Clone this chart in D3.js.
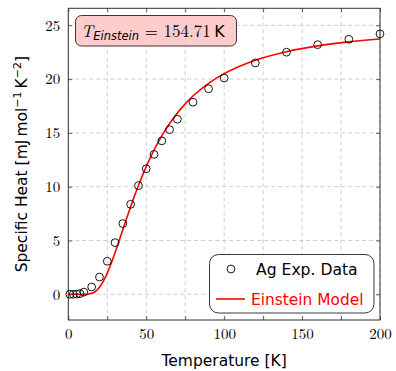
<!DOCTYPE html>
<html>
<head>
<meta charset="utf-8">
<script src="https://cdn.jsdelivr.net/npm/d3@7"></script>
<style>
  body { margin: 0; background: #fff; }
  svg text { fill: #000; }
</style>
</head>
<body>
<svg id="chart"></svg>
<script>
var expT = [1, 3.2, 5.4, 7.5, 10, 15, 20, 25, 30, 35, 40, 45, 50, 55, 60, 65, 70, 80, 90, 100, 120, 140, 160, 180, 200];
var expC = [0, 0, 0.02, 0.06, 0.2, 0.68, 1.6, 3.07, 4.8, 6.57, 8.36, 10.1, 11.67, 13.0, 14.26, 15.3, 16.27, 17.85, 19.1, 20.1, 21.5, 22.5, 23.2, 23.7, 24.2];

// Einstein model curve
var modelT = [0, 5, 10, 12, 15, 17.5, 20, 22.5, 25, 27.5, 30, 32.5, 35, 37.5, 40, 42.5, 45, 50, 55, 60, 65, 70, 75, 80, 90, 100, 120, 140, 160, 180, 200];
var modelC = [0, 0, 0.001, 0.01, 0.09, 0.28, 0.65, 1.22, 1.97, 2.86, 3.87, 4.93, 6.01, 7.08, 8.14, 9.15, 10.11, 11.87, 13.41, 14.73, 15.88, 16.86, 17.70, 18.43, 19.61, 20.51, 21.76, 22.55, 23.09, 23.46, 23.72];

var xTicks = [0, 25, 50, 75, 100, 125, 150, 175, 200];
var xLabels = [0, 50, 100, 150, 200];
var yTicks = [0, 5, 10, 15, 20, 25];

var W = 396, H = 371;
var margin = {top: 8.3, left: 68.3, right: 16, bottom: 51};
var width = W - margin.left - margin.right;
var height = H - margin.top - margin.bottom;

var svg = d3.select("#chart").attr("width", W).attr("height", H);
var g = svg.append("g").attr("transform", "translate(" + margin.left + "," + margin.top + ")");

var x = d3.scaleLinear().domain([0, 200]).range([0, width]);
var y = d3.scaleLinear().domain([-2.39, 26.58]).range([height, 0]);

var serif = "'Latin Modern Roman','CMU Serif','Liberation Serif',serif";
var sans = "'DejaVu Sans','Liberation Sans',sans-serif";

// grid
g.append("g").selectAll("line").data(xTicks).enter().append("line")
  .attr("x1", d => x(d)).attr("x2", d => x(d)).attr("y1", 0).attr("y2", height)
  .attr("stroke", "#c0c0c0").attr("stroke-dasharray", "4,3").attr("stroke-width", 0.8);
g.append("g").selectAll("line").data(yTicks).enter().append("line")
  .attr("y1", d => y(d)).attr("y2", d => y(d)).attr("x1", 0).attr("x2", width)
  .attr("stroke", "#c0c0c0").attr("stroke-dasharray", "4,3").attr("stroke-width", 0.8);

// axes with inward ticks on all sides
var axB = d3.axisBottom(x).tickValues(xTicks).tickSize(-4).tickFormat(d => xLabels.indexOf(d) >= 0 ? d : "");
var axT = d3.axisTop(x).tickValues(xTicks).tickSize(-4).tickFormat("");
var axL = d3.axisLeft(y).tickValues(yTicks).tickSize(-4);
var axR = d3.axisRight(y).tickValues(yTicks).tickSize(-4).tickFormat("");

function styleAxis(sel) {
  sel.select(".domain").remove();
  sel.selectAll("line").attr("stroke", "#444").attr("stroke-width", 0.8);
  sel.selectAll("text").attr("font-family", serif).attr("font-size", 15).attr("fill", "#000");
}
g.append("g").attr("transform", "translate(0," + height + ")").call(axB).call(styleAxis)
  .selectAll("text").attr("dy", "1.05em");
g.append("g").call(axT).call(styleAxis);
g.append("g").call(axL).call(styleAxis).selectAll("text").attr("x", -8);
g.append("g").attr("transform", "translate(" + width + ",0)").call(axR).call(styleAxis);

// model line
var pts = modelT.map((t, i) => [t, modelC[i]]);
g.append("path").datum(pts)
  .attr("fill", "none").attr("stroke", "#ff0000").attr("stroke-width", 1.6)
  .attr("d", d3.line().x(d => x(d[0])).y(d => y(d[1])).curve(d3.curveMonotoneX));

// frame
g.append("rect").attr("width", width).attr("height", height)
  .attr("fill", "none").attr("stroke", "#333").attr("stroke-width", 1);

// experimental points
g.append("g").selectAll("circle").data(expT).enter().append("circle")
  .attr("cx", d => x(d)).attr("cy", (d, i) => y(expC[i])).attr("r", 3.9)
  .attr("fill", "none").attr("stroke", "#000").attr("stroke-width", 0.9);

// annotation box
var ann = svg.append("g");
ann.append("rect").attr("x", 75.5).attr("y", 15.5).attr("width", 161).attr("height", 30.5)
  .attr("rx", 6).attr("fill", "#ffcccc").attr("stroke", "#222").attr("stroke-width", 0.9);
var at = ann.append("text").attr("x", 81).attr("y", 37).attr("font-family", serif).attr("font-size", 17);
at.append("tspan").attr("font-style", "italic").text("T");
at.append("tspan").attr("font-family", sans).attr("font-style", "italic").attr("font-size", 11.5).attr("dy", 3).text("Einstein");
at.append("tspan").attr("dy", -3).text(" = 154.71\u2009");
at.append("tspan").attr("font-family", sans).attr("font-size", 16).text("K");

// legend
var lg = svg.append("g");
lg.append("rect").attr("x", 209.5).attr("y", 254.5).attr("width", 164.5).attr("height", 58.5)
  .attr("rx", 9).attr("fill", "#fff").attr("stroke", "#222").attr("stroke-width", 0.9);
lg.append("circle").attr("cx", 231).attr("cy", 269).attr("r", 3.9)
  .attr("fill", "none").attr("stroke", "#000").attr("stroke-width", 0.9);
lg.append("text").attr("x", 256).attr("y", 275).attr("font-family", sans).attr("font-size", 15.6).text("Ag Exp. Data");
lg.append("line").attr("x1", 216).attr("x2", 245).attr("y1", 299).attr("y2", 299)
  .attr("stroke", "#ff0000").attr("stroke-width", 1.6);
lg.append("text").attr("x", 251).attr("y", 304.5).attr("font-family", sans).attr("font-size", 15.4)
  .style("fill", "#ff0000").text("Einstein Model");

// axis labels
svg.append("text").attr("x", margin.left + width / 2).attr("y", 366).attr("text-anchor", "middle")
  .attr("font-family", sans).attr("font-size", 15.5).text("Temperature [K]");
var yl = svg.append("text").attr("transform", "translate(27," + (margin.top + height / 2) + ") rotate(-90)")
  .attr("text-anchor", "middle").attr("font-family", sans).attr("font-size", 15.5);
yl.append("tspan").text("Specific Heat [mJ\u2009mol");
yl.append("tspan").attr("dy", -6).attr("font-size", 11).text("\u22121");
yl.append("tspan").attr("dy", 6).text("\u2009K");
yl.append("tspan").attr("dy", -6).attr("font-size", 11).text("\u22122");
yl.append("tspan").attr("dy", 6).text("]");
</script>
</body>
</html>
